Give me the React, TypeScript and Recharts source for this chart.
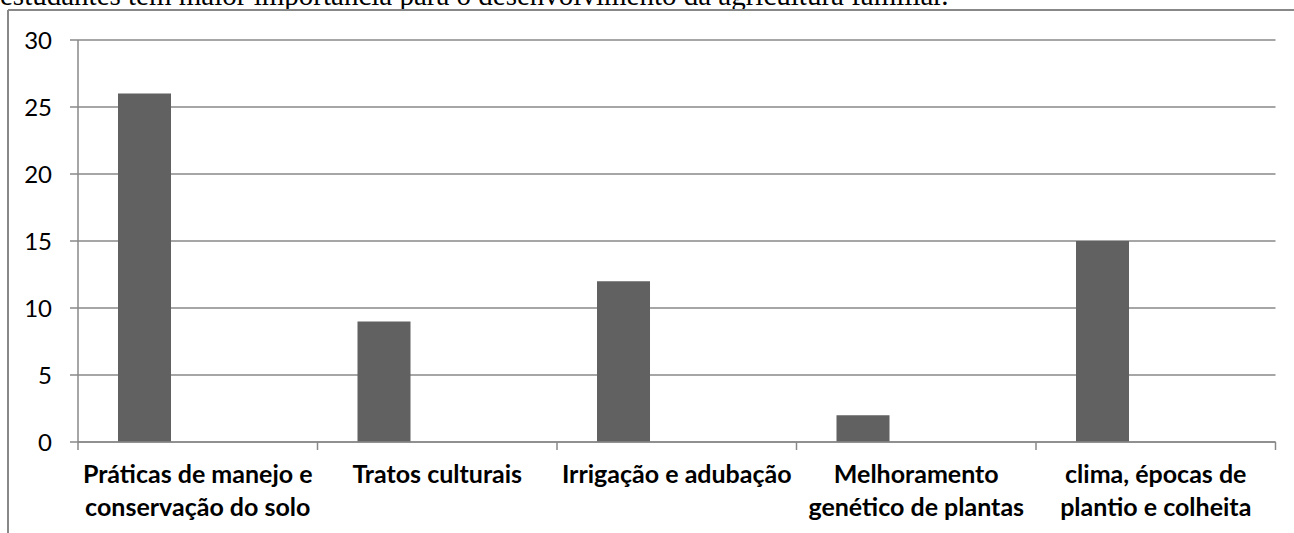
import { Bar, BarChart, CartesianGrid, XAxis, YAxis } from "recharts";

// categories (full text) and how they wrap under the axis
const categories = [
  "Práticas de manejo e conservação do solo",
  "Tratos culturais",
  "Irrigação e adubação",
  "Melhoramento genético de plantas",
  "clima, épocas de plantio e colheita",
];
const labelLines = [
  ["Práticas de manejo e", "conservação do solo"],
  ["Tratos culturais"],
  ["Irrigação e adubação"],
  ["Melhoramento", "genético de plantas"],
  ["clima, épocas de", "plantio e colheita"],
];
const values = [26, 9, 12, 2, 15];
const yTicks = [0, 5, 10, 15, 20, 25, 30];
const caption =
  "estudantes têm maior importância para o desenvolvimento da agricultura familiar.";

const W = 1294;
const H = 533;
const PLOT_LEFT = 78;
const PLOT_RIGHT = 1275.5;
const PLOT_TOP = 40;
const PLOT_BOTTOM = 442;
const GRID = "#888888";
const BAR = "#616161";
const FONT = "Lato, 'Open Sans', sans-serif";

// excel had three series here, only the first carries values
const data = categories.map((name, i) => ({ name, v: values[i], s2: null, s3: null }));

function CatTick(props: any) {
  const { x, y, index } = props;
  const band = (PLOT_RIGHT - PLOT_LEFT) / categories.length;
  const lines = labelLines[index] ?? [];
  return (
    <g>
      <line x1={x - band / 2} x2={x - band / 2} y1={y} y2={y + 8} stroke={GRID} strokeWidth={1.5} />
      {index === categories.length - 1 && (
        <line x1={x + band / 2} x2={x + band / 2} y1={y} y2={y + 8} stroke={GRID} strokeWidth={1.5} />
      )}
      <text x={x} y={y + 41} textAnchor="middle" fontFamily={FONT} fontWeight={700} fontSize={25} fill="#000">
        {lines.map((l, i) => (
          <tspan key={i} x={x} dy={i === 0 ? 0 : 33}>
            {l}
          </tspan>
        ))}
      </text>
    </g>
  );
}

export default function App() {
  return (
    <div style={{ position: "absolute", left: 0, top: 0, width: W, height: H, overflow: "hidden", background: "#fff" }}>
      <svg width={W} height={H} style={{ position: "absolute", left: 0, top: 0 }}>
        <text x={0} y={5} fontFamily="'Liberation Serif', 'Times New Roman', serif" fontSize={29} fill="#000">
          {caption}
        </text>
        <line x1={8} x2={8} y1={10} y2={H} stroke={GRID} strokeWidth={2} />
        <line x1={8} x2={W} y1={10} y2={10} stroke={GRID} strokeWidth={2} />
      </svg>
      <div style={{ position: "absolute", left: 0, top: 0 }}>
        <BarChart
          width={W}
          height={H}
          data={data}
          margin={{ top: PLOT_TOP, right: W - PLOT_RIGHT, bottom: 0, left: 0 }}
          barCategoryGap={40}
          barGap={0}
        >
          <CartesianGrid vertical={false} stroke={GRID} strokeWidth={1.5} />
          <XAxis
            dataKey="name"
            height={H - PLOT_BOTTOM}
            interval={0}
            tickSize={0}
            tickMargin={0}
            tickLine={false}
            axisLine={{ stroke: GRID, strokeWidth: 1.5 }}
            tick={<CatTick />}
          />
          <YAxis
            type="number"
            domain={[0, 30]}
            ticks={yTicks}
            interval={0}
            width={PLOT_LEFT}
            tickSize={8}
            tickMargin={18}
            axisLine={{ stroke: GRID, strokeWidth: 1.5 }}
            tickLine={{ stroke: GRID, strokeWidth: 1.5 }}
            tick={{ fill: "#000", fontSize: 24, fontFamily: FONT }}
          />
          <Bar dataKey="v" fill={BAR} isAnimationActive={false} />
          <Bar dataKey="s2" fill={BAR} isAnimationActive={false} />
          <Bar dataKey="s3" fill={BAR} isAnimationActive={false} />
        </BarChart>
      </div>
    </div>
  );
}
